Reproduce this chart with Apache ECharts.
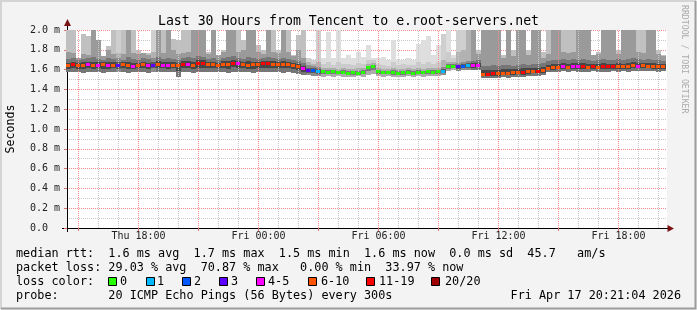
<!DOCTYPE html>
<html><head><meta charset="utf-8">
<script src="https://cdn.jsdelivr.net/npm/echarts@6/dist/echarts.min.js"></script>
<style>html,body{margin:0;padding:0;background:#f3f3f3}#main{width:697px;height:310px}</style>
</head><body><div id="main"></div>
<script>
// ---- data ----
// time in hours since Thu 00:00, one sample every 15 min starting Thu 14:30
const startHour = 14.5;
const stepHour = 0.25;
// median rtt (ms)
const medianRtt = [
1.640,1.650,1.640,1.645,1.650,1.640,1.645,1.650,1.640,1.645,
1.645,1.650,1.640,1.635,1.645,1.650,1.640,1.645,1.650,1.645,
1.640,1.645,1.640,1.655,1.650,1.645,1.660,1.665,1.655,1.650,
1.645,1.655,1.650,1.665,1.660,1.655,1.645,1.650,1.655,1.660,
1.660,1.655,1.650,1.655,1.650,1.645,1.630,1.610,1.595,1.590,
1.585,1.580,1.575,1.580,1.570,1.575,1.565,1.570,1.565,1.575,
1.620,1.635,1.580,1.575,1.570,1.570,1.565,1.570,1.575,1.565,
1.570,1.575,1.580,1.575,1.580,1.585,1.630,1.635,1.630,1.635,
1.640,1.640,1.645,1.555,1.555,1.560,1.560,1.565,1.565,1.570,
1.575,1.575,1.580,1.585,1.585,1.590,1.615,1.620,1.625,1.630,
1.625,1.635,1.635,1.630,1.625,1.630,1.625,1.635,1.630,1.630,
1.635,1.630,1.635,1.640,1.635,1.640,1.635,1.635,1.630,1.630];
// loss colour class index into lossLabels
const lossClass = [
5,6,5,5,4,5,4,5,4,5,
3,5,5,4,5,5,4,3,5,4,
4,5,5,6,4,5,6,6,5,5,
5,5,5,6,4,5,5,5,5,6,
6,5,5,5,5,5,5,4,3,2,
1,0,0,0,0,0,0,0,0,0,
0,0,0,0,0,0,0,0,0,0,
0,0,0,0,0,1,0,0,3,2,
1,4,4,5,6,6,5,5,5,5,
5,6,5,5,6,5,5,5,5,4,
5,4,4,6,5,6,5,6,6,6,
5,5,5,5,4,5,5,5,5,5];
// smoke: lowest ping (ms)
const minRtt = [
1.580,1.575,1.580,1.570,1.580,1.575,1.580,1.570,1.575,1.580,
1.575,1.580,1.570,1.575,1.580,1.575,1.570,1.580,1.575,1.580,
1.575,1.580,1.530,1.575,1.580,1.570,1.580,1.575,1.580,1.575,
1.580,1.575,1.570,1.580,1.575,1.580,1.575,1.570,1.580,1.575,
1.580,1.575,1.580,1.570,1.575,1.570,1.560,1.550,1.545,1.540,
1.535,1.530,1.535,1.530,1.535,1.530,1.525,1.530,1.535,1.530,
1.550,1.560,1.535,1.530,1.535,1.530,1.525,1.530,1.535,1.530,
1.535,1.530,1.540,1.535,1.540,1.545,1.590,1.595,1.590,1.595,
1.600,1.595,1.600,1.520,1.515,1.520,1.520,1.525,1.520,1.525,
1.530,1.525,1.535,1.540,1.540,1.545,1.580,1.575,1.580,1.585,
1.580,1.585,1.580,1.575,1.580,1.585,1.580,1.575,1.580,1.585,
1.580,1.585,1.580,1.585,1.590,1.585,1.590,1.585,1.580,1.585];
// smoke: upper edge of the dense part (ms)
const denseTop = [
1.71,1.72,1.70,1.71,1.72,1.73,1.71,1.70,1.72,1.71,
1.72,1.70,1.73,1.71,1.70,1.72,1.71,1.72,1.73,1.71,
1.72,1.71,1.70,1.72,1.73,1.72,1.74,1.73,1.71,1.72,
1.70,1.72,1.73,1.74,1.72,1.71,1.73,1.72,1.71,1.72,
1.73,1.72,1.71,1.72,1.71,1.70,1.69,1.67,1.65,1.64,
1.63,1.62,1.62,1.62,1.61,1.62,1.61,1.61,1.62,1.62,
1.66,1.67,1.62,1.61,1.61,1.62,1.61,1.61,1.62,1.61,
1.62,1.61,1.62,1.62,1.62,1.63,1.68,1.68,1.67,1.68,
1.69,1.69,1.70,1.64,1.64,1.65,1.64,1.65,1.65,1.64,
1.65,1.66,1.65,1.66,1.66,1.67,1.69,1.70,1.70,1.71,
1.70,1.71,1.70,1.71,1.70,1.69,1.70,1.71,1.70,1.70,
1.71,1.70,1.71,1.72,1.71,1.70,1.71,1.70,1.70,1.69];
// smoke: second-highest pings (ms, >2.0 = off the chart)
const highRtt = [
1.78,1.77,1.72,1.76,1.75,2.20,1.90,1.74,1.80,1.76,
1.77,1.76,2.20,1.77,1.76,1.77,1.75,1.78,2.20,1.77,
2.20,1.80,1.76,1.77,1.78,2.20,2.20,2.20,1.76,2.20,
1.75,1.78,2.20,2.20,1.78,1.80,2.20,2.20,1.78,1.76,
2.20,1.78,1.77,2.20,1.78,1.74,1.80,1.72,1.68,1.66,
1.68,1.66,1.68,1.65,1.68,1.66,1.66,1.65,1.67,1.66,
1.70,1.70,1.66,1.65,1.64,1.68,1.65,1.66,1.65,1.65,
1.68,1.66,1.68,1.66,1.68,1.70,1.78,1.72,1.78,1.80,
2.20,2.20,1.76,2.20,2.20,2.20,2.20,1.72,2.20,1.74,
2.20,2.20,1.75,2.20,2.20,1.72,1.76,2.20,2.20,1.78,
1.77,1.78,2.20,2.20,2.20,1.75,1.76,2.20,2.20,2.20,
1.76,2.20,2.20,2.20,1.78,1.77,2.20,2.20,1.76,1.74];
// smoke: highest ping (ms, >2.0 = off the chart)
const maxRtt = [
2.20,2.20,1.72,1.96,1.94,2.20,1.90,1.74,1.84,2.20,
2.20,2.20,2.20,2.20,1.80,1.77,1.77,2.20,2.20,2.20,
2.20,1.91,1.90,2.20,2.20,2.20,2.20,2.20,1.78,2.20,
1.75,1.80,2.20,2.20,2.20,1.90,2.20,2.20,1.85,1.80,
2.20,2.20,1.80,2.20,2.20,1.75,1.95,2.20,1.72,1.70,
2.20,1.72,1.98,1.72,2.20,1.72,1.75,1.72,1.78,1.73,
1.85,1.72,1.72,1.73,1.70,1.90,1.70,1.70,1.72,1.70,
1.86,1.90,1.94,1.75,1.85,1.96,2.20,1.75,2.20,2.20,
2.20,2.20,1.80,2.20,2.20,2.20,2.20,1.75,2.20,1.80,
2.20,2.20,1.80,2.20,2.20,1.78,2.20,2.20,2.20,2.20,
2.20,2.20,2.20,2.20,2.20,1.75,1.78,2.20,2.20,2.20,
1.80,2.20,2.20,2.20,2.20,2.20,2.20,2.20,1.80,1.75];

const lossLabels = ['0','1','2','3','4-5','6-10','11-19','20/20'];
const lossColors = ['#26ff00','#00b8ff','#0059ff','#5e00ff','#ff00ff','#ff5500','#ff0000','#a00000'];
const xLabelHours = [18,24,30,36,42];
const xLabelTexts = ['Thu 18:00','Fri 00:00','Fri 06:00','Fri 12:00','Fri 18:00'];
const hourGrid = [15,16,17,18,19,20,21,22,23,24,25,26,27,28,29,30,31,32,33,34,35,36,37,38,39,40,41,42,43,44];
const majorHours = [15,18,21,24,27,30,33,36,39,42];
const titleText = 'Last 30 Hours from Tencent to e.root-servers.net';
const legendLine1 = 'median rtt:  1.6 ms avg  1.7 ms max  1.5 ms min  1.6 ms now  0.0 ms sd  45.7   am/s';
const legendLine2 = 'packet loss: 29.03 % avg  70.87 % max   0.00 % min  33.97 % now';
const legendLine3 = 'loss color:';
const legendLine4 = 'probe:       20 ICMP Echo Pings (56 Bytes) every 300s';
const stampText = 'Fri Apr 17 20:21:04 2026';
const xMin = 14.425, xMax = 44.425, yMin = 0, yMax = 2.0;

// ---- layout ----
const G = {left: 67, top: 30, right: 667, bottom: 228};
const MONO = '"DejaVu Sans Mono", monospace';

const rows = medianRtt.map((m, i) => [startHour + i * stepHour, m, lossClass[i], minRtt[i], denseTop[i], highRtt[i], maxRtt[i]]);

const shades = [
  ['#dedede','#cbcbcb','#acacac','#7a7a7a'],
  ['#cfcfcf','#b2b2b2','#8c8c8c','#5a5a5a'],
  ['#c0c0c0','#9a9a9a','#767676','#474747']
];

function smokeItem(params, api) {
  const t = api.value(0), med = api.value(1), loss = api.value(2);
  const lo = api.value(3), dense = api.value(4), high = api.value(5), hi = api.value(6);
  const cs = params.coordSys;
  const w = api.size([stepHour, 0])[0];
  const xc = api.coord([t, 0])[0];
  const x0 = Math.round(xc - w / 2), x1 = Math.round(xc + w / 2);
  const Y = v => Math.max(cs.y, api.coord([t, v])[1]);
  const pal = shades[loss === 0 ? 0 : (loss <= 3 ? 1 : 2)];
  const rect = (a, b, fill) => {
    const ya = Math.round(Y(a)), yb = Math.round(Y(b));
    return {type: 'rect', shape: {x: x0, y: yb, width: x1 - x0, height: ya - yb}, style: {fill: fill}};
  };
  const coreLo = med - (med - lo) * 0.5, coreHi = med + (dense - med) * 0.45;
  return {type: 'group', children: [
    rect(lo, hi, pal[0]), rect(lo, high, pal[1]), rect(lo, dense, pal[2]), rect(coreLo, coreHi, pal[3])
  ]};
}

function medianItem(params, api) {
  const t = api.value(0), med = api.value(1), loss = api.value(2);
  const w = api.size([stepHour, 0])[0];
  const p = api.coord([t, med]);
  const x0 = Math.round(p[0] - w / 2), x1 = Math.round(p[0] + w / 2);
  return {type: 'rect', shape: {x: x0, y: Math.round(p[1] - 1.5), width: x1 - x0 - 1, height: 3},
    style: {fill: lossColors[loss]}};
}

const vGridLines = hourGrid.map(h => ({xAxis: h, lineStyle: {color: majorHours.indexOf(h) >= 0 ? '#f58a8a' : '#c8c8c8'}}));

// legend boxes for the loss colours
const boxX = [108, 146, 182, 219, 256, 308, 366, 431];
const boxLabelX = [120, 157, 194, 231, 268, 321, 379, 445];
const graphics = [];
// frame
graphics.push({type: 'polyline', shape: {points: [[1, 309], [1, 1], [696, 1]]}, style: {stroke: '#d4d4d4', lineWidth: 2, fill: null}, silent: true});
graphics.push({type: 'polyline', shape: {points: [[1, 308.5], [695.5, 308.5], [695.5, 1]]}, style: {stroke: '#9c9c9c', lineWidth: 2, fill: null}, silent: true});
// axis extensions and arrows
graphics.push({type: 'line', shape: {x1: G.left + 0.5, y1: G.top, x2: G.left + 0.5, y2: 24}, style: {stroke: '#000', lineWidth: 1}});
graphics.push({type: 'line', shape: {x1: G.left + 0.5, y1: G.bottom, x2: G.left + 0.5, y2: 232}, style: {stroke: '#000', lineWidth: 1}});
graphics.push({type: 'line', shape: {x1: 62, y1: G.bottom + 0.5, x2: G.left, y2: G.bottom + 0.5}, style: {stroke: '#000', lineWidth: 1}});
graphics.push({type: 'line', shape: {x1: G.right, y1: G.bottom + 0.5, x2: 669, y2: G.bottom + 0.5}, style: {stroke: '#000', lineWidth: 1}});
graphics.push({type: 'polygon', shape: {points: [[G.left + 0.5, 19], [G.left - 3, 26], [G.left + 4, 26]]}, style: {fill: '#7a1414'}});
graphics.push({type: 'polygon', shape: {points: [[674, G.bottom + 0.5], [667.5, G.bottom - 3], [667.5, G.bottom + 4]]}, style: {fill: '#7a1414'}});
// legend text
const textStyle = (t, x, y, extra) => ({type: 'text', x: x, y: y, silent: true,
  style: Object.assign({text: t, font: '11.8px ' + MONO, fill: '#000', verticalAlign: 'middle', align: 'left'}, extra || {})});
graphics.push(textStyle(legendLine1, 16, 254));
graphics.push(textStyle(legendLine2, 16, 268));
graphics.push(textStyle(legendLine3, 16, 282));
graphics.push(textStyle(legendLine4, 16, 296));
graphics.push(textStyle(stampText, 681, 296, {align: 'right'}));
lossLabels.forEach((lab, i) => {
  graphics.push({type: 'rect', shape: {x: boxX[i] + 0.5, y: 277.5, width: 8, height: 8}, style: {fill: lossColors[i], stroke: '#000', lineWidth: 1}, silent: true});
  graphics.push(textStyle(lab, boxLabelX[i], 282));
});
// watermark
graphics.push({type: 'text', x: 684, y: 5, rotation: -Math.PI / 2, silent: true,
  style: {text: 'RRDTOOL / TOBI OETIKER', font: '8.2px ' + MONO, fill: '#ababab', align: 'left', verticalAlign: 'middle'}});

const chart = echarts.init(document.getElementById('main'), null, {renderer: 'canvas'});
chart.setOption({
  animation: false,
  backgroundColor: '#f3f3f3',
  title: {text: titleText, left: 'center', top: 10,
    textStyle: {fontFamily: MONO, fontSize: 13.2, fontWeight: 'normal', color: '#000'}},
  grid: {left: G.left, top: G.top, right: 697 - G.right, bottom: 310 - G.bottom,
    show: true, backgroundColor: '#ffffff', borderWidth: 0, containLabel: false, outerBoundsMode: 'none'},
  xAxis: {
    type: 'value', min: xMin, max: xMax,
    axisLine: {show: true, onZero: false, lineStyle: {color: '#000', width: 1}},
    axisTick: {show: true, customValues: majorHours, length: 3, lineStyle: {color: '#e07070'}},
    axisLabel: {show: true, customValues: xLabelHours, margin: 3,
      fontFamily: MONO, fontSize: 10, color: '#222',
      formatter: v => { const k = xLabelHours.findIndex(h => Math.abs(h - v) < 1e-6); return k >= 0 ? xLabelTexts[k] : ''; }},
    splitLine: {show: false}
  },
  yAxis: {
    type: 'value', min: yMin, max: yMax, interval: 0.2,
    name: 'Seconds', nameLocation: 'middle', nameRotate: 90, nameGap: 50,
    nameTextStyle: {fontFamily: MONO, fontSize: 11.6, color: '#000'},
    axisLine: {show: true, lineStyle: {color: '#000', width: 1}},
    axisTick: {show: true, length: 3, lineStyle: {color: '#e07070'}},
    minorTick: {show: false, splitNumber: 2},
    axisLabel: {align: 'left', margin: 37, fontFamily: MONO, fontSize: 10, color: '#222',
      formatter: v => v === 0 ? '0.0' : v.toFixed(1) + ' m'},
    splitLine: {show: true, lineStyle: {color: '#f58a8a', type: [1, 1], width: 1}},
    minorSplitLine: {show: true, lineStyle: {color: '#c8c8c8', type: [1, 1], width: 1}}
  },
  series: [
    {type: 'custom', name: 'smoke', renderItem: smokeItem, data: rows, z: 2, silent: true,
      encode: {x: 0, y: 1},
      markLine: {silent: true, symbol: ['none', 'none'], label: {show: false}, animation: false, z: 5,
        lineStyle: {type: [1, 1], width: 1}, data: vGridLines}},
    {type: 'custom', name: 'median rtt', renderItem: medianItem, data: rows, z: 10, silent: true,
      encode: {x: 0, y: 1}}
  ],
  graphic: graphics
});
</script>
</body></html>
